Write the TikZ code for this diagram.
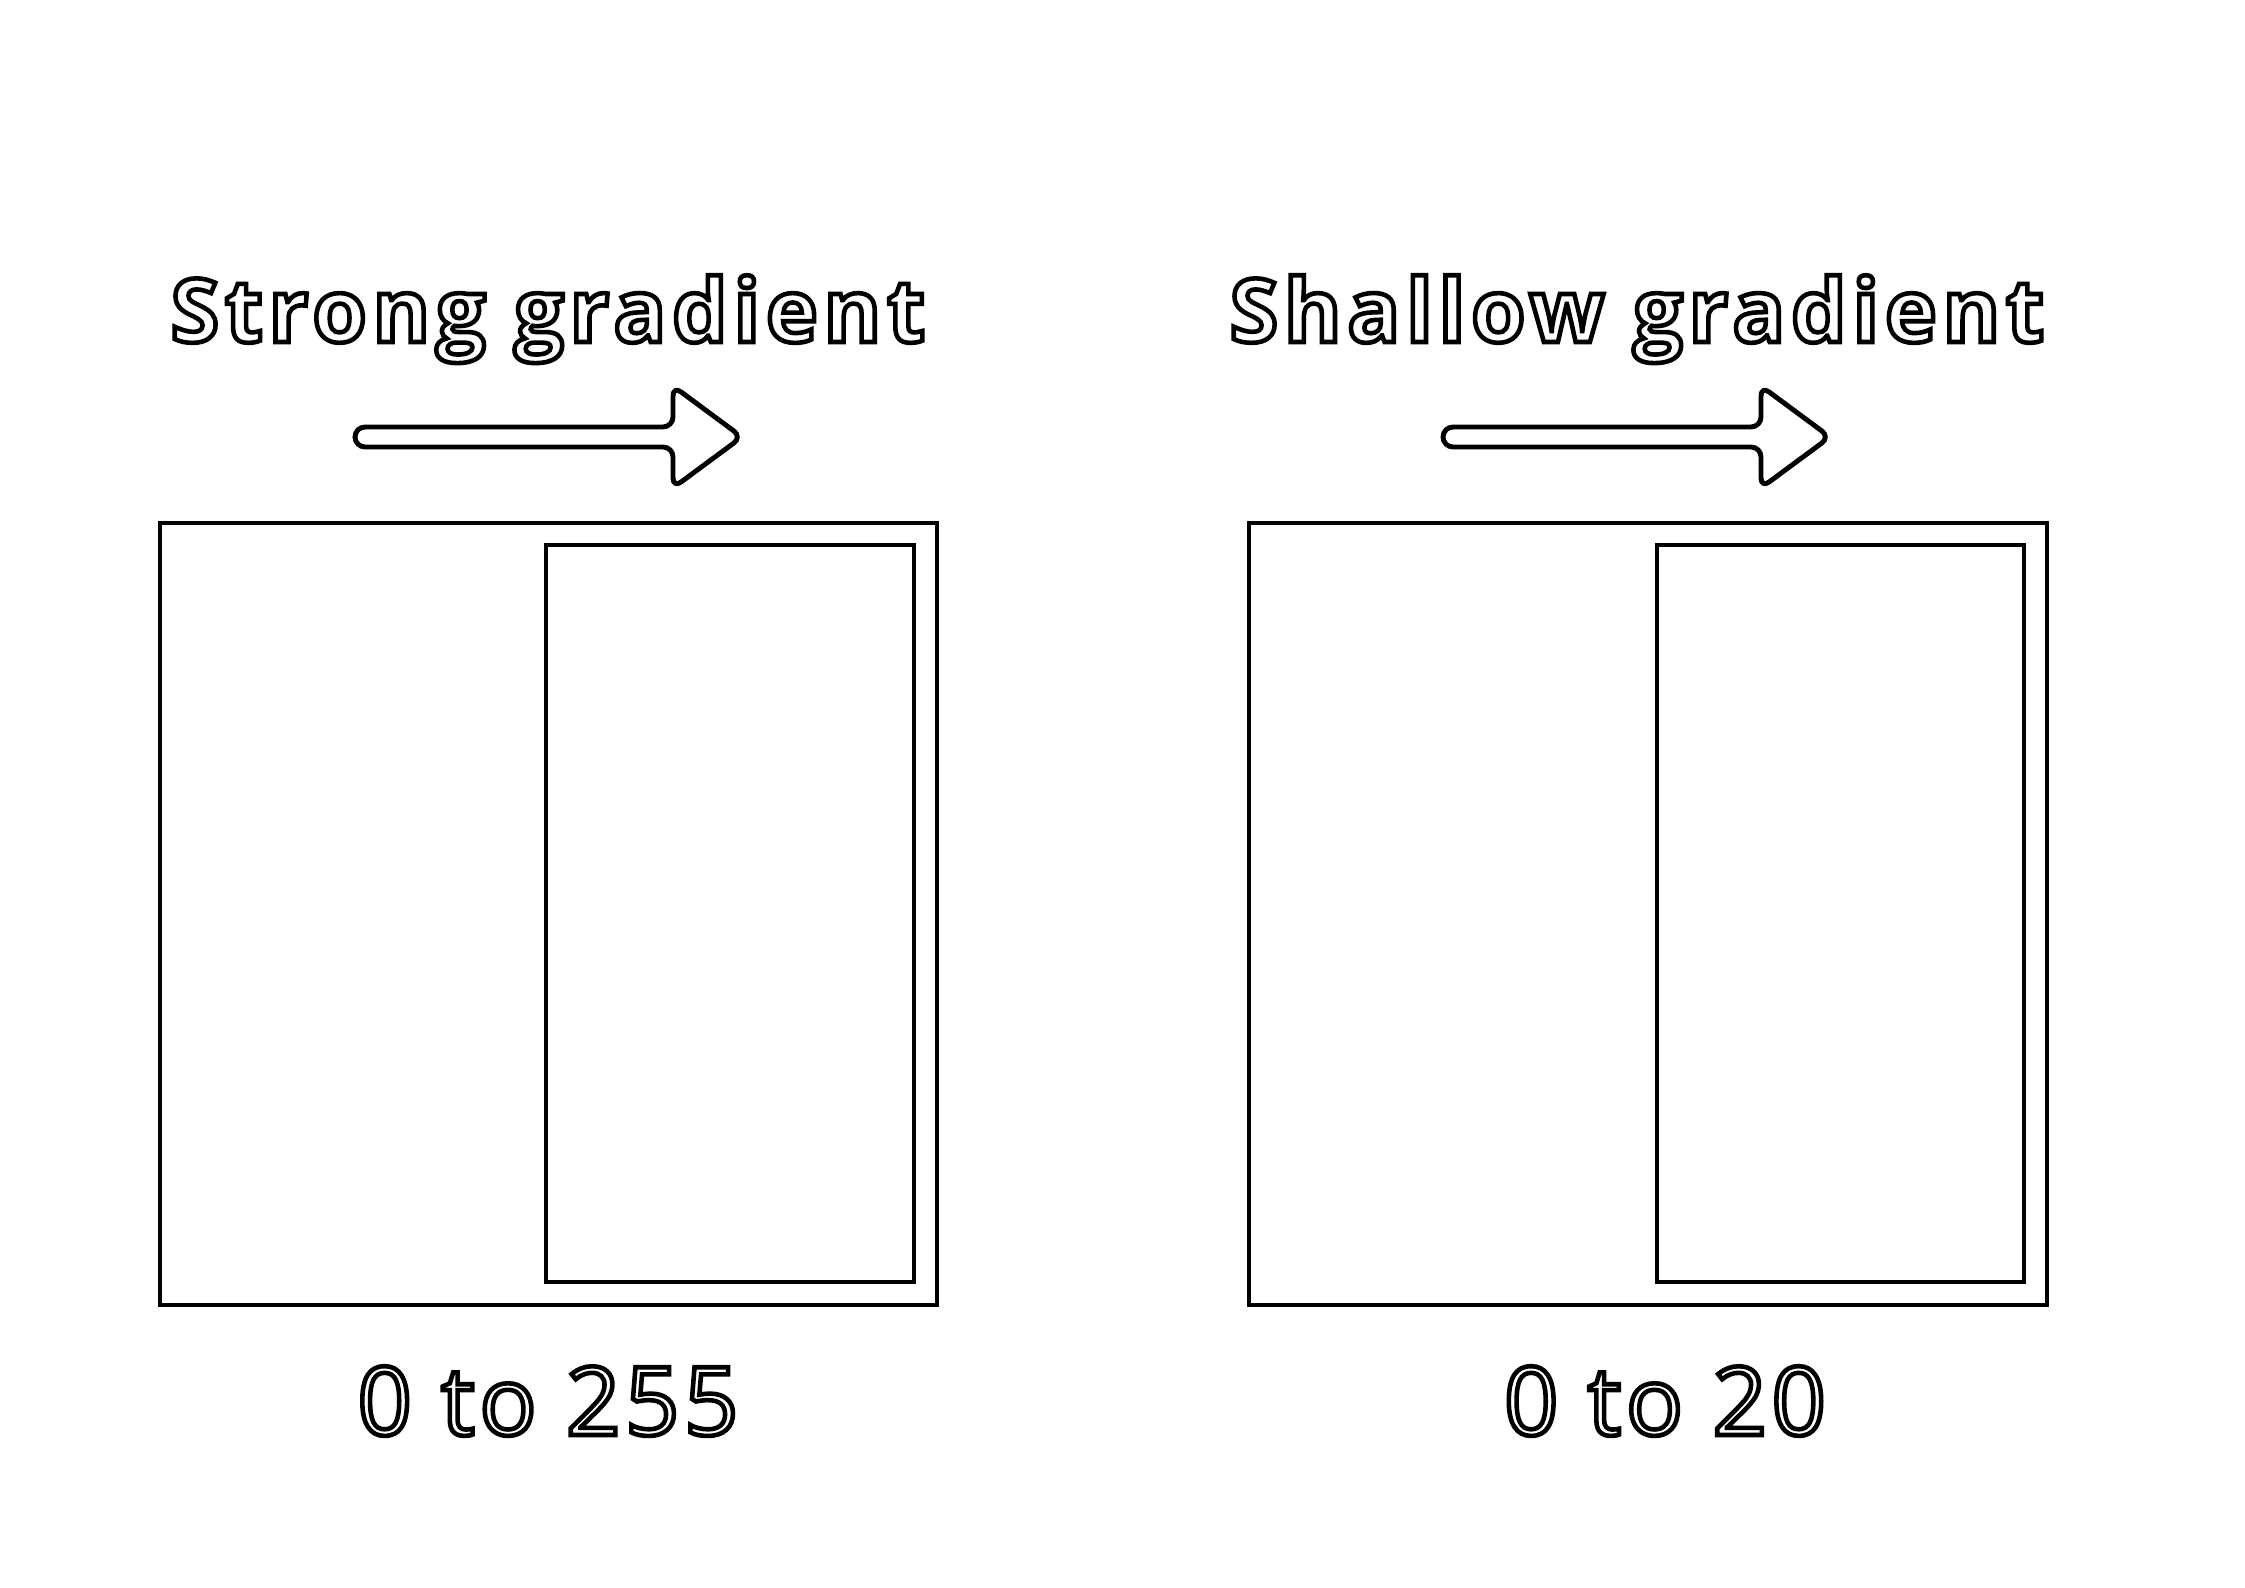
\documentclass[tikz,border=0pt]{standalone}
\usepackage{fontspec}
\setmainfont{Open Sans}
\newfontfamily\headfont[LetterSpace=6.5]{Open Sans}
\newfontfamily\rangefont[LetterSpace=5]{Open Sans}
\newcommand{\hollow}[1]{\special{pdf:literal direct 1 Tr 1.3 w}#1\special{pdf:literal direct 0 Tr}}

\begin{document}
\begin{tikzpicture}[x=1cm, y=1cm, line width=1.4pt,
    headtext/.style={anchor=base, inner sep=0pt, font=\headfont\fontsize{25}{30}\selectfont\bfseries},
    rangetext/.style={anchor=base, inner sep=0pt, font=\rangefont\fontsize{27}{32}\selectfont},
    fatarrow/.style={line width=1.4pt, rounded corners=0.1cm}]
    \useasboundingbox (0,0) rectangle (22.45,15.87);

    % 1. 标题
    \node[headtext] (tstrong) at (5.48,12.45) {\hollow{Strong gradient}};
    \node[headtext] (tshallow) at (16.37,12.45) {\hollow{Shallow gradient}};

    % 2. 箭头
    \draw[fatarrow] (3.55,11.40) -- (6.73,11.40) -- (6.73,10.99) -- (7.42,11.50)
        -- (6.73,12.01) -- (6.73,11.60) -- (3.55,11.60) -- cycle;
    \draw[fatarrow] (14.43,11.40) -- (17.61,11.40) -- (17.61,10.99) -- (18.30,11.50)
        -- (17.61,12.01) -- (17.61,11.60) -- (14.43,11.60) -- cycle;

    % 3. 外框与内框
    \draw (1.60,2.82) rectangle (9.37,10.64);
    \draw (5.46,3.05) rectangle (9.14,10.42);
    \draw (12.49,2.82) rectangle (20.47,10.64);
    \draw (16.57,3.05) rectangle (20.24,10.42);

    % 4. 数值范围
    \node[rangetext] (rstrong) at (5.48,1.52) {\hollow{0 to 255}};
    \node[rangetext] (rshallow) at (16.65,1.52) {\hollow{0 to 20}};
\end{tikzpicture}
\end{document}
